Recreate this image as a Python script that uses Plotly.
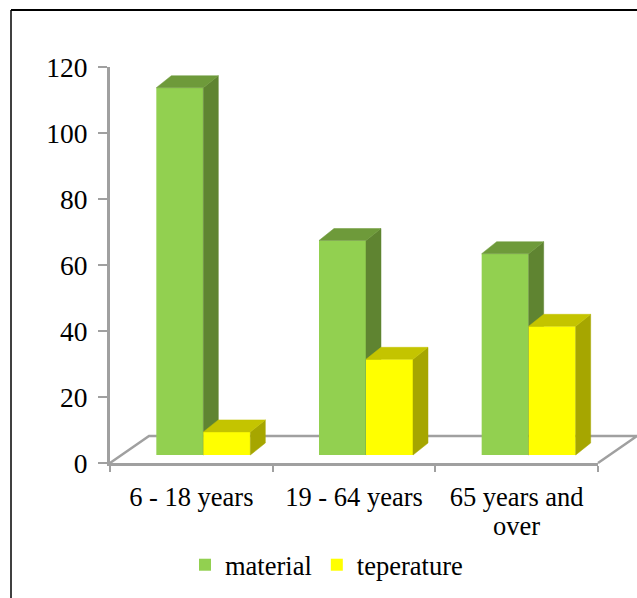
import plotly.graph_objects as go

categories = ["6 - 18 years", "19 - 64 years", "65 years and", ]
category_second_lines = ["", "", "over"]
series_names = ["material", "teperature"]
material = [111.3, 65, 61]
teperature = [7, 29, 39]
y_ticks = [0, 20, 40, 60, 80, 100, 120]

FRONT = ["#92D050", "#FFFF00"]
SIDE = ["#5F8431", "#A6A600"]
TOP = ["#6E9A3A", "#C4C400"]
GRAY = "#A0A0A0"
FONT = "Liberation Serif"

W, H = 637, 598
L, R, T, B = 110, 39, 67, 135
pw, ph = W - L - R, H - T - B
px_x = 3 / pw            # data units per pixel, x
px_y = 120 / ph          # data units per pixel, y

bar_w = 47 * px_x
shift = 12 * px_x
base = 8 * px_y
dep_x, dep_y = 15 * px_x, 12 * px_y
floor_dx, floor_dy = 39 / pw, 27 / ph   # paper units

fig = go.Figure()


def face(xs, ys, color, xa, ya):
    fig.add_trace(go.Scatter(
        x=xs + xs[:1], y=ys + ys[:1], mode="lines", fill="toself",
        fillcolor=color, line=dict(color=color, width=0.5),
        showlegend=False, cliponaxis=False, hoverinfo="skip",
        xaxis=xa, yaxis=ya))


# the second series sits on overlaid axes, so it covers the first one
for s, (name, vals) in enumerate(zip(series_names, [material, teperature])):
    xa, ya = ("x", "y") if s == 0 else ("x2", "y2")
    offs = [shift - bar_w + s * bar_w] * len(vals)
    for i, v in enumerate(vals):
        x0 = i + offs[i]
        x1 = x0 + bar_w
        top = base + v
        face([x1, x1 + dep_x, x1 + dep_x, x1],
             [base, base + dep_y, top + dep_y, top], SIDE[s], xa, ya)
        face([x0, x0 + dep_x, x1 + dep_x, x1],
             [top, top + dep_y, top + dep_y, top], TOP[s], xa, ya)
    fig.add_trace(go.Bar(
        x=list(range(len(vals))), y=vals, base=[base] * len(vals),
        width=[bar_w] * len(vals), offset=offs, name=name,
        marker=dict(color=FRONT[s], line=dict(width=0)),
        cliponaxis=False, xaxis=xa, yaxis=ya))

fig.update_layout(
    width=W, height=H, margin=dict(l=L, r=R, t=T, b=B, autoexpand=False),
    paper_bgcolor="white", plot_bgcolor="white",
    font=dict(family=FONT, size=26.5, color="black"),
    barmode="overlay",
    xaxis=dict(
        range=[-0.5, 2.5], tickmode="array", tickvals=[0, 1, 2],
        ticktext=categories, ticks="", showgrid=False, zeroline=False,
        showline=True, linecolor=GRAY, linewidth=3, ticklabelstandoff=8,
        tickfont=dict(family=FONT, size=26.5, color="black"),
        minor=dict(tickmode="array", tickvals=[-0.5, 0.5, 1.5, 2.5],
                   ticks="outside", ticklen=6, tickwidth=2, tickcolor=GRAY,
                   showgrid=False)),
    yaxis=dict(
        range=[0, 120], tickmode="array", tickvals=y_ticks,
        ticks="outside", ticklen=9, tickwidth=2, tickcolor=GRAY,
        showgrid=False, zeroline=False, showline=True,
        linecolor=GRAY, linewidth=3, ticklabelstandoff=5,
        tickfont=dict(family=FONT, size=27.5, color="black")),
    xaxis2=dict(range=[-0.5, 2.5], overlaying="x", visible=False),
    yaxis2=dict(range=[0, 120], overlaying="y", visible=False),
    legend=dict(
        orientation="h", x=(185 - L) / pw, xanchor="left",
        y=-(541 - (T + ph)) / ph, yanchor="top",
        font=dict(family=FONT, size=26.5, color="black"),
        traceorder="normal"),
    annotations=[
        dict(text=t, x=i, xref="x", y=-(526 - (T + ph)) / ph, yref="paper",
             yanchor="middle", xanchor="center", showarrow=False,
             font=dict(family=FONT, size=26.5, color="black"))
        for i, t in enumerate(category_second_lines) if t
    ],
    shapes=[
        # floor of the 3-D box, behind the bars and reaching past the plot area
        dict(type="path", xref="paper", yref="paper", layer="below",
             path=f"M 0 0 L {floor_dx} {floor_dy} L {1 + floor_dx} {floor_dy} L 1 0",
             line=dict(color=GRAY, width=2.5)),
        dict(type="line", xref="paper", yref="paper",
             x0=(11 - L) / pw, x1=(W - L) / pw,
             y0=(T + ph - 10) / ph, y1=(T + ph - 10) / ph,
             line=dict(color="black", width=2)),
        dict(type="line", xref="paper", yref="paper",
             x0=(11 - L) / pw, x1=(11 - L) / pw,
             y0=(T + ph - 10) / ph, y1=(T + ph - H) / ph,
             line=dict(color="black", width=1.5)),
    ],
)

fig.write_html("out.html", post_script="document.body.style.margin='0';",
               config={"displayModeBar": False})
